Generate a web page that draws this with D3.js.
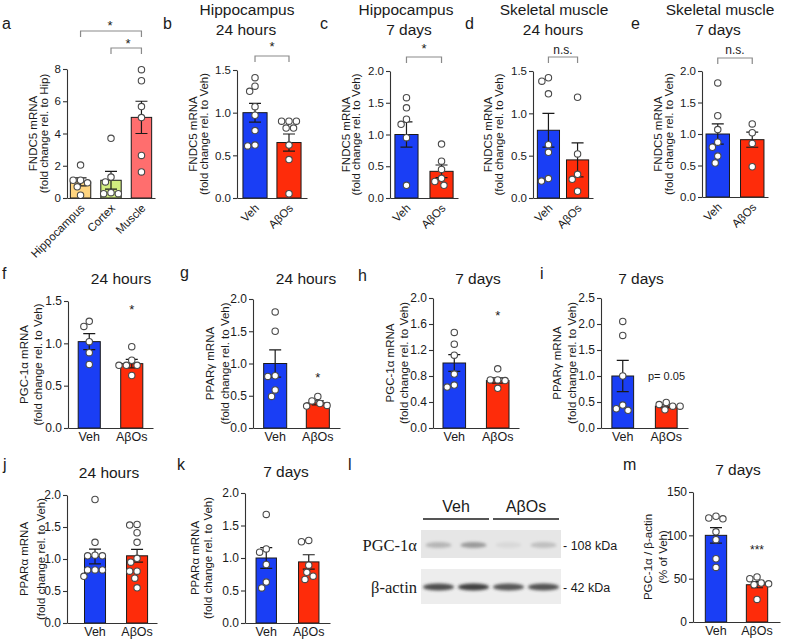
<!DOCTYPE html>
<html><head><meta charset="utf-8">
<script src="https://cdn.jsdelivr.net/npm/d3@7"></script>
<style>body{margin:0;background:#fff} svg text{font-family:"Liberation Sans",Arial,sans-serif;fill:#1a1a1a}</style>
</head><body><svg id="fig" width="800" height="639"></svg>
<script>
// ---------------- DATA ----------------
const groups = ["Veh", "AβOs"];
const groupColors = ["#1a3ef5", "#fe2c0a"];

const aCategories = ["Hippocampus", "Cortex", "Muscle"];
const aColors = ["#ffd580", "#d2ee80", "#ff6e6e"];
const aMeans = [1.0, 1.1, 5.0];
const aSEM = [0.25, 0.55, 1.0];
const aPoints = [[2.04, 1.1, 1.1, 0.94, 0.69, 0.17], [3.7, 1.3, 1.0, 0.33, 0.27, 0.27], [7.96, 7.27, 5.67, 4.99, 2.64, 1.62]];
const aTicks = [0, 2, 4, 6, 8];

const bMeans = [1.0, 0.65], bSEM = [0.11, 0.10];
const bPoints = [[1.41, 1.31, 1.25, 1.07, 0.97, 0.79, 0.61, 0.62], [0.9, 0.9, 0.9, 0.82, 0.82, 0.62, 0.45, 0.05]];
const cMeans = [1.0, 0.42], cSEM = [0.2, 0.1];
const cPoints = [[1.58, 1.42, 1.24, 1.16, 0.95, 0.2], [0.85, 0.58, 0.45, 0.31, 0.26, 0.2]];
const dMeans = [0.8, 0.45], dSEM = [0.2, 0.2];
const dPoints = [[1.42, 1.38, 1.23, 0.63, 0.54, 0.23, 0.2], [1.19, 0.52, 0.28, 0.22, 0.08]];
const eMeans = [1.0, 0.91], eSEM = [0.16, 0.12];
const ePoints = [[1.81, 1.29, 1.07, 0.87, 0.79, 0.65, 0.54], [1.16, 1.02, 0.85, 0.48]];
const fMeans = [1.02, 0.76], fSEM = [0.095, 0.05];
const fPoints = [[1.26, 1.2, 1.02, 0.89, 0.75], [0.96, 0.8, 0.74, 0.74, 0.74, 0.62]];
const gMeans = [1.0, 0.39], gSEM = [0.21, 0.03];
const gPoints = [[1.8, 1.5, 0.81, 0.8, 0.59, 0.49], [0.49, 0.42, 0.38, 0.35, 0.34]];
const hMeans = [1.0, 0.73], hSEM = [0.13, 0.04];
const hPoints = [[1.47, 1.29, 1.12, 0.83, 0.66, 0.63], [0.91, 0.74, 0.74, 0.73, 0.61]];
const iMeans = [1.0, 0.42], iSEM = [0.3, 0.03];
const iPoints = [[2.05, 1.78, 1.0, 0.44, 0.37, 0.34], [0.49, 0.45, 0.42, 0.42, 0.35]];
const jMeans = [1.04, 1.05], jSEM = [0.115, 0.1];
const jPoints = [[1.93, 1.26, 1.06, 1.05, 1.05, 0.83, 0.83, 0.83, 0.73], [1.54, 1.53, 1.41, 1.26, 1.01, 0.95, 0.81, 0.81, 0.7, 0.55]];
const kMeans = [1.0, 0.94], kSEM = [0.16, 0.11];
const kPoints = [[1.67, 1.14, 1.09, 0.9, 0.63, 0.54], [1.27, 1.25, 0.89, 0.78, 0.72, 0.67]];
const mMeans = [100, 43], mSEM = [9, 3.5];
const mPoints = [[122, 120, 119, 104, 95, 73, 63], [52, 50, 45, 44, 43, 26]];

const ticks15 = [0, 0.5, 1.0, 1.5];
const ticks20 = [0, 0.5, 1.0, 1.5, 2.0];
const hTicks = [0, 0.4, 0.8, 1.2, 1.6, 2.0];
const iTicks = [0, 0.5, 1.0, 1.5, 2.0, 2.5];
const mTicks = [0, 50, 100, 150];

const blotLanes = ["Veh1", "Veh2", "AβOs1", "AβOs2"];
const pgcBand = [0.38, 0.6, 0.1, 0.3];
const actinBand = [0.85, 0.92, 0.8, 0.82];

// ---------------- DRAW ----------------
const svg = d3.select("#fig");
svg.append("defs").html('<filter id="bl" x="-50%" y="-100%" width="200%" height="300%"><feGaussianBlur stdDeviation="1.5"/></filter>');

const fmt1 = d3.format(".1f"), fmtD = d3.format("d");

function dodge(vals, y, D) {
  const placed = [];
  const sorted = vals.map(v => ({v, py: y(v)})).sort((a, b) => a.py - b.py);
  for (const p of sorted) {
    const near = placed.filter(q => Math.abs(q.py - p.py) < D);
    const cands = [0];
    near.forEach(q => { const w = Math.sqrt(D * D - (q.py - p.py) ** 2); cands.push(q.dx - w, q.dx + w); });
    cands.sort((a, b) => Math.abs(a) - Math.abs(b) || a - b);
    p.dx = 0;
    for (const c of cands) {
      if (near.every(q => Math.abs(c - q.dx) >= Math.sqrt(D * D - (q.py - p.py) ** 2) - 1e-6)) { p.dx = c; break; }
    }
    placed.push(p);
  }
  return placed;
}

function drawPanel(p) {
  const g = svg.append("g");
  const x = d3.scaleBand().domain(p.cats).range([p.left, p.right]).paddingInner(p.pi).paddingOuter(p.po).align(p.align ?? 0.5);
  const y = d3.scaleLinear().domain([0, p.yMax]).range([p.bottom, p.top]);
  const bw = x.bandwidth();
  const rows = p.cats.map((c, i) => ({c, i, m: p.means[i], s: p.sem[i], col: p.colors[i], pts: p.pts[i]}));

  g.selectAll("rect.bar").data(rows).join("rect").attr("class", "bar")
    .attr("x", d => x(d.c)).attr("width", bw)
    .attr("y", d => y(d.m)).attr("height", d => y(0) - y(d.m))
    .attr("fill", d => d.col).attr("stroke", "#1a1a1a").attr("stroke-width", 1);

  g.selectAll("path.err").data(rows).join("path").attr("class", "err")
    .attr("d", d => {
      const cx = x(d.c) + bw / 2, t = y(d.m + d.s), b = y(d.m - d.s);
      return `M${cx},${b}V${t}M${cx - 6},${t}H${cx + 6}M${cx - 6},${b}H${cx + 6}`;
    })
    .attr("stroke", "#1a1a1a").attr("stroke-width", 1.2).attr("fill", "none");

  const r = 3.2;
  rows.forEach(d => {
    const cx = x(d.c) + bw / 2;
    const placed = dodge(d.pts, y, 2 * r + 1.0);
    g.selectAll(null).data(placed).join("circle")
      .attr("cx", q => cx + q.dx).attr("cy", q => q.py).attr("r", r)
      .attr("fill", "#fff").attr("stroke", "#4a4a4a").attr("stroke-width", 1.1);
  });

  const ya = d3.axisLeft(y).tickValues(p.ticks).tickFormat(p.fmt).tickSize(4).tickSizeOuter(0).tickPadding(2);
  const yg = g.append("g").attr("transform", `translate(${p.left},0)`).call(ya);
  yg.selectAll("text").style("font-size", p.rot ? "11.5px" : "12px");
  yg.selectAll("path,line").attr("stroke", "#333").attr("stroke-width", 1.1);

  const xa = d3.axisBottom(x).tickSize(0).tickSizeOuter(0).tickPadding(4);
  const xg = g.append("g").attr("transform", `translate(0,${p.bottom})`).call(xa);
  xg.selectAll("path").attr("stroke", "#333").attr("stroke-width", 1.1);
  if (p.rot) {
    xg.selectAll("text").style("font-size", "11.5px").attr("text-anchor", "end")
      .attr("y", 0).attr("dy", "0.35em").attr("transform", "translate(2,8) rotate(-45)");
  } else {
    xg.selectAll("text").style("font-size", "12.5px").attr("y", 3).attr("dy", "0.8em");
  }

  // y label (two lines)
  const ymid = (p.top + p.bottom) / 2;
  p.ylab.forEach((t, k) => {
    g.append("text").attr("transform", `translate(${p.left - p.lab[k]},${ymid}) rotate(-90)`)
      .attr("text-anchor", "middle").style("font-size", "11.5px").text(t);
  });
  // titles
  (p.title || []).forEach(t => {
    g.append("text").attr("x", t[1]).attr("y", t[2]).attr("text-anchor", "middle").style("font-size", "15.5px").text(t[0]);
  });
  // panel letter
  g.append("text").attr("x", p.letter[1]).attr("y", p.letter[2]).style("font-size", "16px").text(p.letter[0]);
  // annotations
  (p.brackets || []).forEach(bk => {
    const x1 = x(p.cats[bk.a]) + bw / 2, x2 = x(p.cats[bk.b]) + bw / 2;
    g.append("path").attr("d", `M${x1},${bk.y + 6}V${bk.y}H${x2}V${bk.y + 6}`)
      .attr("stroke", "#8a8a8a").attr("stroke-width", 1.2).attr("fill", "none");
    g.append("text").attr("x", (bk.tx ?? (x1 + x2) / 2)).attr("y", bk.ty).attr("text-anchor", "middle")
      .style("font-size", bk.label === "*" ? "13px" : "12px").text(bk.label);
  });
  (p.stars || []).forEach(st => {
    g.append("text").attr("x", st.x ?? (x(p.cats[st.cat]) + bw / 2)).attr("y", st.y)
      .attr("text-anchor", st.anchor || "middle").style("font-size", st.fs || "13px").text(st.label);
  });
}

const panels = [
  {cats: aCategories, colors: aColors, means: aMeans, sem: aSEM, pts: aPoints, yMax: 8, ticks: aTicks, fmt: fmtD,
   left: 67, right: 155, top: 69, bottom: 198, pi: 0.33, po: 0.11, rot: true, lab: [30, 19],
   ylab: ["FNDC5 mRNA", "(fold change rel. to Hip)"], letter: ["a", 2, 29],
   brackets: [{a: 0, b: 2, y: 31, label: "*", tx: 110, ty: 30}, {a: 1, b: 2, y: 48, label: "*", tx: 128, ty: 48}]},
  {cats: groups, colors: groupColors, means: bMeans, sem: bSEM, pts: bPoints, yMax: 1.5, ticks: ticks15, fmt: fmt1,
   left: 237, right: 307, top: 70, bottom: 198, pi: 0.29, po: 0.175, rot: true, lab: [40, 29],
   ylab: ["FNDC5 mRNA", "(fold change rel. to Veh)"], letter: ["b", 163, 29],
   title: [["Hippocampus", 247, 15], ["24 hours", 246, 35]],
   brackets: [{a: 0, b: 1, y: 56, label: "*", ty: 51}]},
  {cats: groups, colors: groupColors, means: cMeans, sem: cSEM, pts: cPoints, yMax: 2, ticks: ticks20, fmt: fmt1,
   left: 390, right: 458, top: 71, bottom: 198, pi: 0.34, po: 0.14, rot: true, lab: [40, 30],
   ylab: ["FNDC5 mRNA", "(fold change rel. to Veh)"], letter: ["c", 320, 29],
   title: [["Hippocampus", 406, 15], ["7 days", 409, 35]],
   brackets: [{a: 0, b: 1, y: 57, label: "*", ty: 53}]},
  {cats: groups, colors: groupColors, means: dMeans, sem: dSEM, pts: dPoints, yMax: 1.5, ticks: ticks15, fmt: fmt1,
   left: 533, right: 593, top: 71, bottom: 198, pi: 0.24, po: 0.15, rot: true, lab: [41, 30],
   ylab: ["FNDC5 mRNA", "(fold change rel. to Veh)"], letter: ["d", 465, 29],
   title: [["Skeletal muscle", 554, 15], ["24 hours", 553, 35]],
   brackets: [{a: 0, b: 1, y: 57, label: "n.s.", ty: 54}]},
  {cats: groups, colors: groupColors, means: eMeans, sem: eSEM, pts: ePoints, yMax: 2, ticks: ticks20, fmt: fmt1,
   left: 702, right: 768, top: 71, bottom: 197, pi: 0.32, po: 0.117, rot: true, lab: [40, 29],
   ylab: ["FNDC5 mRNA", "(fold change rel. to Veh)"], letter: ["e", 631, 29],
   title: [["Skeletal muscle", 720, 15], ["7 days", 718, 35]],
   brackets: [{a: 0, b: 1, y: 58, label: "n.s.", ty: 54}]},
  {cats: groups, colors: groupColors, means: fMeans, sem: fSEM, pts: fPoints, yMax: 1.5, ticks: ticks15, fmt: fmt1,
   left: 68, right: 153, top: 301, bottom: 428, pi: 0.48, po: 0.24, lab: [40, 26],
   ylab: ["PGC-1α mRNA", "(fold change rel. to Veh)"], letter: ["f", 2, 279],
   title: [["24 hours", 121, 284]], stars: [{cat: 1, y: 314, label: "*"}]},
  {cats: groups, colors: groupColors, means: gMeans, sem: gSEM, pts: gPoints, yMax: 2, ticks: ticks20, fmt: fmt1,
   left: 253, right: 340, top: 299, bottom: 428, pi: 0.46, po: 0.25, lab: [39, 24],
   ylab: ["PPARγ mRNA", "(fold change rel. to Veh)"], letter: ["g", 180, 278],
   title: [["24 hours", 306, 284]], stars: [{cat: 1, y: 382, label: "*"}]},
  {cats: groups, colors: groupColors, means: hMeans, sem: hSEM, pts: hPoints, yMax: 2, ticks: hTicks, fmt: fmt1,
   left: 433, right: 519, top: 298, bottom: 428, pi: 0.48, po: 0.23, lab: [39, 25],
   ylab: ["PGC-1α mRNA", "(fold change rel. to Veh)"], letter: ["h", 358, 281],
   title: [["7 days", 478, 284]], stars: [{cat: 1, y: 320, label: "*"}]},
  {cats: groups, colors: groupColors, means: iMeans, sem: iSEM, pts: iPoints, yMax: 2.5, ticks: iTicks, fmt: fmt1,
   left: 601, right: 688, top: 298, bottom: 428, pi: 0.5, po: 0.25, lab: [40, 25],
   ylab: ["PPARγ mRNA", "(fold change rel. to Veh)"], letter: ["i", 540, 279],
   title: [["7 days", 641, 284]], stars: [{x: 648, y: 380, label: "p= 0.05", anchor: "start", fs: "11px"}]},
  {cats: groups, colors: groupColors, means: jMeans, sem: jSEM, pts: jPoints, yMax: 2, ticks: ticks20, fmt: fmt1,
   left: 67, right: 157, top: 495, bottom: 623, pi: 0.5, po: 0.32, align: 0.65, lab: [39, 22],
   ylab: ["PPARα mRNA", "(fold change rel. to Veh)"], letter: ["j", 3, 470],
   title: [["24 hours", 109, 478]]},
  {cats: groups, colors: groupColors, means: kMeans, sem: kSEM, pts: kPoints, yMax: 2, ticks: ticks20, fmt: fmt1,
   left: 245, right: 330, top: 493, bottom: 623, pi: 0.52, po: 0.26, lab: [46, 33],
   ylab: ["PPARα mRNA", "(fold change rel. to Veh)"], letter: ["k", 177, 470],
   title: [["7 days", 286, 477]]},
  {cats: groups, colors: groupColors, means: mMeans, sem: mSEM, pts: mPoints, yMax: 150, ticks: mTicks, fmt: fmtD,
   left: 693, right: 780, top: 492, bottom: 622, pi: 0.48, po: 0.3, lab: [41, 26],
   ylab: ["PGC-1α / β-actin", "(% of Veh)"], letter: ["m", 623, 470],
   title: [["7 days", 738, 475]], stars: [{cat: 1, y: 554, label: "***", fs: "12px"}]}
];
panels.forEach(drawPanel);

// ---------- Panel l: western blot ----------
(function () {
  const g = svg.append("g");
  const lx = d3.scaleBand().domain(blotLanes).range([421, 561]);
  g.append("text").attr("x", 348).attr("y", 470).style("font-size", "16px").text("l");
  const hdr = [{t: "Veh", lanes: [0, 1]}, {t: "AβOs", lanes: [2, 3]}];
  hdr.forEach(h => {
    const x0 = lx(blotLanes[h.lanes[0]]) + 2, x1 = lx(blotLanes[h.lanes[1]]) + lx.bandwidth() - 2;
    g.append("line").attr("x1", x0).attr("x2", x1).attr("y1", 519).attr("y2", 519).attr("stroke", "#555").attr("stroke-width", 2);
    g.append("text").attr("x", (x0 + x1) / 2).attr("y", 512).attr("text-anchor", "middle").style("font-size", "16px").text(h.t);
  });
  g.append("rect").attr("x", 421).attr("y", 530).attr("width", 140).attr("height", 28).attr("fill", "#e6e6e6");
  g.append("rect").attr("x", 421).attr("y", 569).attr("width", 140).attr("height", 35).attr("fill", "#ededed");
  g.selectAll("ellipse.pgc").data(pgcBand).join("ellipse")
    .attr("cx", (d, i) => lx(blotLanes[i]) + lx.bandwidth() / 2).attr("cy", 545)
    .attr("rx", 13).attr("ry", 3).attr("fill", "#666").attr("opacity", d => d).attr("filter", "url(#bl)");
  g.selectAll("ellipse.act").data(actinBand).join("ellipse")
    .attr("cx", (d, i) => lx(blotLanes[i]) + lx.bandwidth() / 2).attr("cy", 587)
    .attr("rx", 15.5).attr("ry", 3.6).attr("fill", "#333").attr("opacity", d => d).attr("filter", "url(#bl)");
  g.append("text").attr("x", 417).attr("y", 551).attr("text-anchor", "end")
    .style("font-family", "'Liberation Serif','Times New Roman',serif").style("font-size", "16.5px").text("PGC-1α");
  g.append("text").attr("x", 417).attr("y", 593).attr("text-anchor", "end")
    .style("font-family", "'Liberation Serif','Times New Roman',serif").style("font-size", "16.5px").text("β-actin");
  g.append("text").attr("x", 563).attr("y", 550).style("font-size", "12.5px").text("- 108 kDa");
  g.append("text").attr("x", 563).attr("y", 592).style("font-size", "12.5px").text("- 42 kDa");
})();
</script>
</body></html>
